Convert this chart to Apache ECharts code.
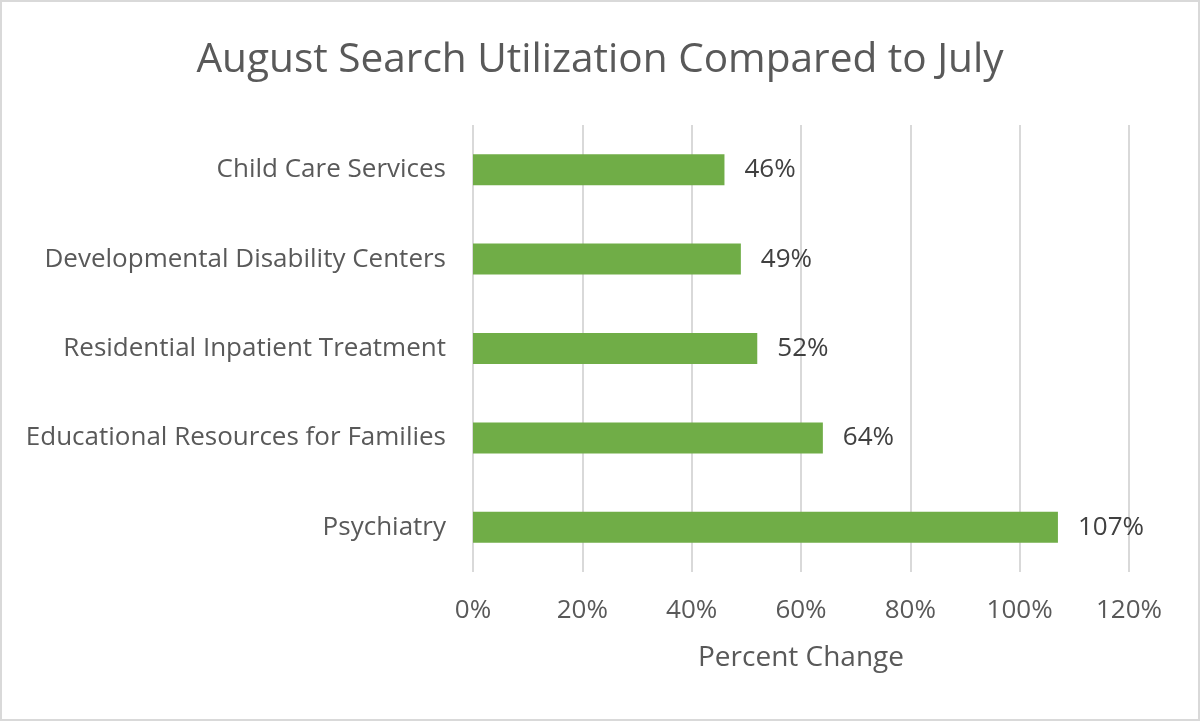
<!DOCTYPE html>
<html>
<head>
<meta charset="utf-8">
<script src="https://cdn.jsdelivr.net/npm/echarts@6/dist/echarts.min.js"></script>
<style>
html,body{margin:0;padding:0;background:#fff;}
#c{width:1200px;height:721px;box-sizing:border-box;border:2px solid #d9d9d9;}
</style>
</head>
<body>
<div id="c"></div>
<script>
const categories = ["Child Care Services","Developmental Disability Centers","Residential Inpatient Treatment","Educational Resources for Families","Psychiatry"];
const values = [46, 49, 52, 64, 107];
const xTicks = [0, 20, 40, 60, 80, 100, 120];

const FONT = "Open Sans";
const chart = echarts.init(document.getElementById('c'), null, {renderer:'canvas'});
chart.setOption({
  animation:false,
  backgroundColor:'#fff',
  title:{
    text:'August Search Utilization Compared to July',
    left:'center', top:33,
    textStyle:{fontFamily:FONT,fontSize:40.6,fontWeight:'normal',color:'#595959'}
  },
  grid:{left:471,right:69,top:123,bottom:147},
  xAxis:{
    type:'value', min:xTicks[0], max:xTicks[xTicks.length-1], interval:20,
    name:'Percent Change', nameLocation:'middle', nameGap:72,
    nameTextStyle:{fontFamily:FONT,fontSize:28,color:'#595959'},
    axisLine:{show:false}, axisTick:{show:false},
    axisLabel:{fontFamily:FONT,fontSize:26,color:'#595959',margin:26,formatter:'{value}%'},
    splitLine:{lineStyle:{color:'#d9d9d9',width:2}}
  },
  yAxis:{
    type:'category', data:categories, inverse:true,
    axisLine:{show:false}, axisTick:{show:false},
    axisLabel:{fontFamily:FONT,fontSize:26,color:'#595959',margin:27}
  },
  series:[{
    type:'bar', data:values, barWidth:31,
    itemStyle:{color:'#70ad47'},
    label:{show:true,position:'right',distance:20,formatter:'{c}%',fontFamily:FONT,fontSize:26,color:'#404040'}
  }]
});
</script>
</body>
</html>
